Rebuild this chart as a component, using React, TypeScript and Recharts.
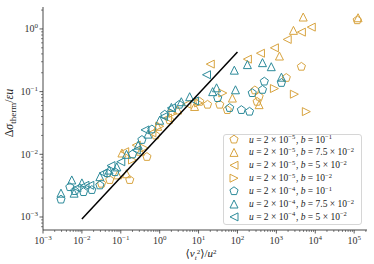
import React from "react";
import { ScatterChart, Scatter, XAxis, YAxis } from "recharts";

const GOLD = "#D8A440";
const TEAL = "#2C8A9A";
const AXIS = "#333";
const SERIF = "'Liberation Serif', 'DejaVu Serif', serif";

// u = 2e-5 series (gold)
const goldPentagon = [
  { x: 0.032, y: 0.0034 }, { x: 0.052, y: 0.0039 }, { x: 0.17, y: 0.0039 },
  { x: 0.47, y: 0.0091 }, { x: 0.79, y: 0.02 }, { x: 1.8, y: 0.035 },
  { x: 10.7, y: 0.069 }, { x: 17, y: 0.062 }, { x: 35, y: 0.062 },
  { x: 55, y: 0.051 }, { x: 320, y: 0.069 }, { x: 360, y: 0.083 },
  { x: 280, y: 0.105 }, { x: 1800, y: 0.166 }, { x: 4400, y: 0.25 },
  { x: 120000, y: 1.38 },
];
const goldTriUp = [
  { x: 0.083, y: 0.0047 }, { x: 0.107, y: 0.0105 }, { x: 0.14, y: 0.0049 },
  { x: 0.32, y: 0.0112 }, { x: 0.89, y: 0.028 }, { x: 2.9, y: 0.051 },
  { x: 7.9, y: 0.058 }, { x: 74, y: 0.079 }, { x: 360, y: 0.062 },
  { x: 1200, y: 0.37 }, { x: 2750, y: 0.95 }, { x: 4900, y: 1.55 },
  { x: 126000, y: 1.51 },
];
const goldTriLeft = [
  { x: 0.126, y: 0.011 }, { x: 0.25, y: 0.014 }, { x: 0.63, y: 0.022 },
  { x: 1.58, y: 0.038 }, { x: 5.0, y: 0.063 }, { x: 20, y: 0.275 },
  { x: 180, y: 0.33 }, { x: 390, y: 0.41 }, { x: 890, y: 0.5 },
  { x: 1900, y: 0.68 }, { x: 4400, y: 0.89 }, { x: 7900, y: 1.07 },
];
const goldTriRight = [
  { x: 0.2, y: 0.0081 }, { x: 0.4, y: 0.0126 }, { x: 1.0, y: 0.028 },
  { x: 2.2, y: 0.045 }, { x: 10, y: 0.066 }, { x: 42, y: 0.095 },
  { x: 890, y: 0.112 }, { x: 2900, y: 0.091 }, { x: 5900, y: 0.048 },
];

// u = 2e-4 series (teal)
const tealPentagon = [
  { x: 0.0029, y: 0.0019 }, { x: 0.0049, y: 0.003 }, { x: 0.0066, y: 0.0026 },
  { x: 0.011, y: 0.0025 }, { x: 0.018, y: 0.0027 }, { x: 0.029, y: 0.0032 },
  { x: 0.045, y: 0.005 }, { x: 0.071, y: 0.0052 }, { x: 0.2, y: 0.01 },
  { x: 0.35, y: 0.017 }, { x: 0.63, y: 0.025 }, { x: 1.35, y: 0.043 },
  { x: 3.2, y: 0.062 }, { x: 31, y: 0.079 }, { x: 63, y: 0.055 },
  { x: 126, y: 0.051 }, { x: 204, y: 0.048 }, { x: 240, y: 0.095 },
  { x: 440, y: 0.107 }, { x: 490, y: 0.145 }, { x: 1350, y: 0.138 },
];
const tealTriUp = [
  { x: 0.0029, y: 0.0024 }, { x: 0.0055, y: 0.0039 }, { x: 0.0063, y: 0.0024 },
  { x: 0.01, y: 0.0035 }, { x: 0.029, y: 0.0044 }, { x: 0.05, y: 0.0056 },
  { x: 0.079, y: 0.0063 }, { x: 0.14, y: 0.01 }, { x: 0.28, y: 0.014 },
  { x: 0.5, y: 0.021 }, { x: 1.0, y: 0.035 }, { x: 2.0, y: 0.056 },
  { x: 3.6, y: 0.069 }, { x: 5.9, y: 0.083 }, { x: 23, y: 0.1 },
  { x: 29, y: 0.115 }, { x: 89, y: 0.107 }, { x: 83, y: 0.22 },
  { x: 180, y: 0.27 }, { x: 440, y: 0.29 }, { x: 740, y: 0.25 },
  { x: 1350, y: 0.17 },
];
const tealTriLeft = [
  { x: 0.0074, y: 0.0029 }, { x: 0.012, y: 0.0032 }, { x: 0.016, y: 0.0032 },
  { x: 0.035, y: 0.005 }, { x: 0.056, y: 0.0066 }, { x: 0.1, y: 0.0076 },
  { x: 0.25, y: 0.0117 }, { x: 0.42, y: 0.0245 }, { x: 1.26, y: 0.04 },
  { x: 2.0, y: 0.055 }, { x: 7.9, y: 0.071 }, { x: 16, y: 0.186 },
];

// reference power-law line endpoints
const fitLine = [{ x: 0.01, y: 0.00093 }, { x: 100, y: 0.43 }];

const xMajorTicks = [1e-3, 1e-2, 1e-1, 1, 1e1, 1e2, 1e3, 1e4, 1e5];
const yMajorTicks = [1e-3, 1e-2, 1e-1, 1];
const xDomain = [1e-3, 2.14e5];
const yDomain = [6.2e-4, 2.24];

type Shape = "pentagon" | "up" | "left" | "right";

const series: { data: { x: number; y: number }[]; shape: Shape; color: string; uExp: string; bMant: string; bExp: string }[] = [
  { data: goldPentagon, shape: "pentagon", color: GOLD, uExp: "5", bMant: "", bExp: "1" },
  { data: goldTriUp, shape: "up", color: GOLD, uExp: "5", bMant: "7.5", bExp: "2" },
  { data: goldTriLeft, shape: "left", color: GOLD, uExp: "5", bMant: "5", bExp: "2" },
  { data: goldTriRight, shape: "right", color: GOLD, uExp: "5", bMant: "", bExp: "2" },
  { data: tealPentagon, shape: "pentagon", color: TEAL, uExp: "4", bMant: "", bExp: "1" },
  { data: tealTriUp, shape: "up", color: TEAL, uExp: "4", bMant: "7.5", bExp: "2" },
  { data: tealTriLeft, shape: "left", color: TEAL, uExp: "4", bMant: "5", bExp: "2" },
];

const withMinors = (majors: number[], lo: number, hi: number) => {
  const out: number[] = [];
  majors.concat([majors[majors.length - 1] * 10]).forEach((m) => {
    for (let k = 1; k < 10; k++) {
      const v = (m / 10) * k;
      if (v >= lo && v <= hi) out.push(v);
    }
  });
  return Array.from(new Set(out.map((v) => +v.toPrecision(6)))).sort((a, b) => a - b);
};

const isMajor = (v: number) => Math.abs(Math.log10(v) - Math.round(Math.log10(v))) < 1e-6;
const expOf = (v: number) => {
  const e = Math.round(Math.log10(v));
  return e < 0 ? "\u2212" + Math.abs(e) : String(e);
};

const markerPoints = (shape: Shape, cx: number, cy: number) => {
  const s = 4;
  if (shape === "up") return `${cx},${cy - s} ${cx - s},${cy + s} ${cx + s},${cy + s}`;
  if (shape === "left") return `${cx - s},${cy} ${cx + s},${cy - s} ${cx + s},${cy + s}`;
  if (shape === "right") return `${cx + s},${cy} ${cx - s},${cy - s} ${cx - s},${cy + s}`;
  const r = 4.3;
  const pts: string[] = [];
  for (let i = 0; i < 5; i++) {
    const a = -Math.PI / 2 + (i * 2 * Math.PI) / 5;
    pts.push(`${cx + r * Math.cos(a)},${cy + r * Math.sin(a)}`);
  }
  return pts.join(" ");
};

const Marker = ({ shape, color, cx, cy }: { shape: Shape; color: string; cx: number; cy: number }) => (
  <polygon points={markerPoints(shape, cx, cy)} fill="none" stroke={color} strokeWidth={1} strokeLinejoin="miter" />
);

const XTick = (props: any) => {
  const { x, y, payload } = props;
  const major = isMajor(payload.value);
  return (
    <g>
      <line x1={x} x2={x} y1={y} y2={y + (major ? 3.5 : 2)} stroke={AXIS} strokeWidth={major ? 0.8 : 0.6} />
      {major && (
        <text x={x} y={y + 14} textAnchor="middle" fontFamily={SERIF} fontSize={10} fill={AXIS}>
          10<tspan dy={-4} fontSize={7}>{expOf(payload.value)}</tspan>
        </text>
      )}
    </g>
  );
};

const YTick = (props: any) => {
  const { x, y, payload } = props;
  const major = isMajor(payload.value);
  return (
    <g>
      <line x1={x} x2={x - (major ? 3.5 : 2)} y1={y} y2={y} stroke={AXIS} strokeWidth={major ? 0.8 : 0.6} />
      {major && (
        <text x={x - 5} y={y + 3.5} textAnchor="end" fontFamily={SERIF} fontSize={10} fill={AXIS}>
          10<tspan dy={-4} fontSize={7}>{expOf(payload.value)}</tspan>
        </text>
      )}
    </g>
  );
};

const Sci = ({ mant, exp }: { mant: string; exp: string }) => (
  <>
    {mant ? `${mant} \u00d7 ` : ""}10<tspan dy={-3.5} fontSize={6.5}>{"\u2212" + exp}</tspan>
    <tspan dy={3.5}>{"\u200a"}</tspan>
  </>
);

const Legend = () => (
  <g>
    <rect x={223.5} y={134.5} width={138} height={90} rx={2.5} fill="#fff" fillOpacity={0.85} stroke="#ccc" strokeWidth={0.8} />
    {series.map((s, i) => {
      const cy = 139.5 + i * 12.9;
      return (
        <g key={i}>
          <Marker shape={s.shape} color={s.color} cx={234} cy={cy} />
          <text x={249} y={cy + 3} fontFamily={SERIF} fontSize={9.5} fill="#222">
            <tspan fontStyle="italic">u</tspan> = 2 {"\u00d7"} <Sci mant="" exp={s.uExp} />, <tspan fontStyle="italic">b</tspan> ={" "}
            <Sci mant={s.bMant} exp={s.bExp} />
          </text>
        </g>
      );
    })}
  </g>
);

export default function App() {
  const xTicks = withMinors(xMajorTicks, xDomain[0], xDomain[1]);
  const yTicks = withMinors(yMajorTicks, yDomain[0], yDomain[1]);
  return (
    <div style={{ position: "absolute", left: 0, top: 0, width: 374, height: 264, background: "#fff" }}>
      <ScatterChart width={374} height={264} margin={{ top: 7, right: 7, left: 0, bottom: 0 }}>
        <XAxis
          type="number"
          dataKey="x"
          scale="log"
          domain={xDomain}
          allowDataOverflow
          ticks={xTicks}
          interval={0}
          tick={<XTick />}
          tickLine={false}
          tickSize={0}
          tickMargin={0}
          height={34}
          axisLine={{ stroke: AXIS, strokeWidth: 0.9 }}
        />
        <XAxis xAxisId="top" orientation="top" type="number" scale="log" domain={xDomain} allowDataOverflow tick={false} tickLine={false} height={0} axisLine={{ stroke: "#999", strokeWidth: 0.9 }} />
        <YAxis
          type="number"
          dataKey="y"
          scale="log"
          domain={yDomain}
          allowDataOverflow
          ticks={yTicks}
          interval={0}
          tick={<YTick />}
          tickLine={false}
          tickSize={0}
          tickMargin={0}
          width={43}
          axisLine={{ stroke: AXIS, strokeWidth: 0.9 }}
        />
        <YAxis yAxisId="right" orientation="right" type="number" scale="log" domain={yDomain} allowDataOverflow tick={false} tickLine={false} width={0} axisLine={{ stroke: "#999", strokeWidth: 0.9 }} />
        {series.map((s, i) => (
          <Scatter
            key={i}
            data={s.data}
            isAnimationActive={false}
            shape={(p: any) => <Marker shape={s.shape} color={s.color} cx={p.cx} cy={p.cy} />}
          />
        ))}
        <Scatter data={fitLine} isAnimationActive={false} line={{ stroke: "#000", strokeWidth: 1.5 }} shape={() => <g />} />
      </ScatterChart>
      <svg width={374} height={264} style={{ position: "absolute", left: 0, top: 0, pointerEvents: "none" }}>
        <Legend />
        <text x={201} y={257} textAnchor="middle" fontFamily={SERIF} fontSize={11} fill="#222">
          {"\u27e8"}<tspan fontStyle="italic">v</tspan>
          <tspan dy={2.5} fontSize={7} fontStyle="italic">t</tspan>
          <tspan dy={-6} fontSize={7}>2</tspan>
          <tspan dy={3.5}>{"\u27e9"}/</tspan>
          <tspan fontStyle="italic">u</tspan>
          <tspan dy={-3.5} fontSize={7}>2</tspan>
        </text>
        <text transform="translate(13,113) rotate(-90)" textAnchor="middle" fontFamily={SERIF} fontSize={12} fill="#222">
          {"\u0394"}<tspan fontStyle="italic">{"\u03c3"}</tspan>
          <tspan dy={2.5} fontSize={9}>therm</tspan>
          <tspan dy={-2.5}>/</tspan>
          <tspan fontStyle="italic">{"\u03b5u"}</tspan>
        </text>
      </svg>
    </div>
  );
}
